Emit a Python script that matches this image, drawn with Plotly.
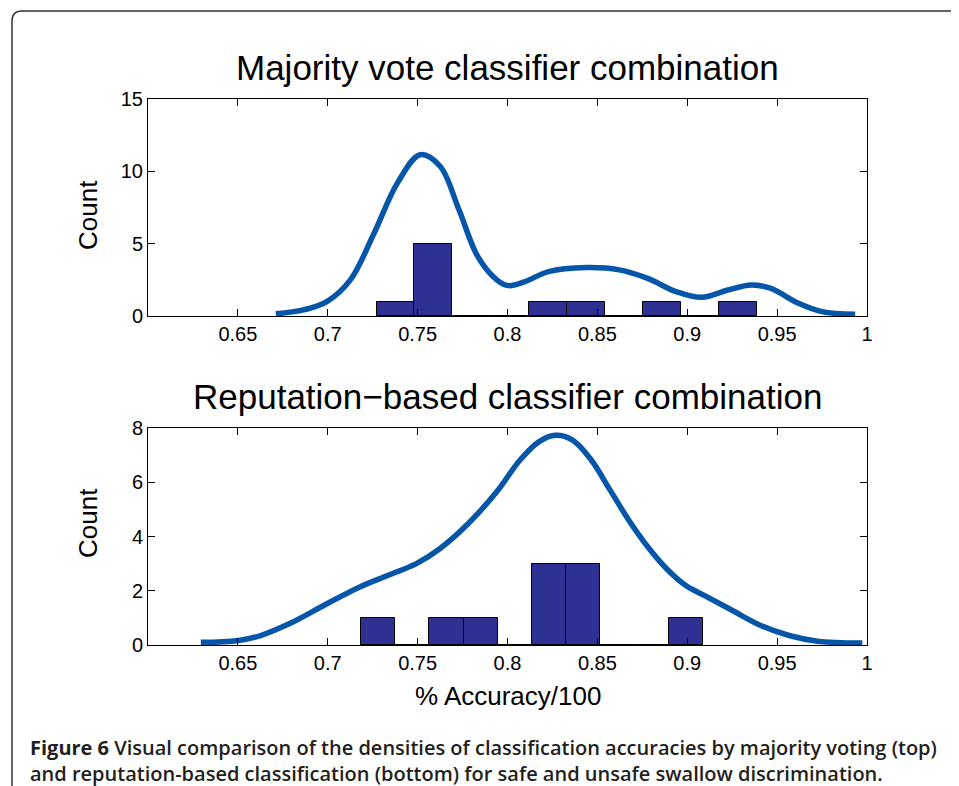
import plotly.graph_objects as go

# ---------------- data ----------------
top_bin_centers = [0.7377, 0.7588, 0.7800, 0.8011, 0.8223, 0.8435, 0.8646, 0.8858, 0.9070, 0.9281]
top_counts = [1, 5, 0, 0, 1, 1, 0, 1, 0, 1]
top_bin_width = 0.0211

bot_bin_centers = [0.7281, 0.7471, 0.7661, 0.7851, 0.8041, 0.8231, 0.8421, 0.8611, 0.8801, 0.8991]
bot_counts = [1, 0, 1, 1, 0, 3, 3, 0, 0, 1]
bot_bin_width = 0.0190

top_curve_x = [0.6711, 0.6864, 0.6995, 0.7126, 0.7257, 0.7388, 0.7514, 0.7625, 0.7730, 0.7835,
               0.7940, 0.8005, 0.8097, 0.8228, 0.8438, 0.8622, 0.8780, 0.8937, 0.9081, 0.9226,
               0.9357, 0.9462, 0.9619, 0.9750, 0.9934]
top_curve_y = [0.15, 0.42, 1.0, 2.5, 5.7, 9.2, 11.15, 10.35, 7.34, 4.1,
               2.5, 2.1, 2.38, 3.07, 3.35, 3.19, 2.6, 1.69, 1.29, 1.8,
               2.15, 1.92, 0.88, 0.3, 0.12]

bot_curve_x = [0.6294, 0.6496, 0.6627, 0.6785, 0.6995, 0.7178, 0.7336, 0.7493, 0.7625, 0.7782,
               0.7940, 0.8071, 0.8176, 0.8268, 0.8360, 0.8465, 0.8570, 0.8675, 0.8780, 0.8885,
               0.8990, 0.9094, 0.9252, 0.9409, 0.9567, 0.9724, 0.9974]
bot_curve_y = [0.1, 0.16, 0.35, 0.78, 1.52, 2.14, 2.57, 3.0, 3.56, 4.48,
               5.65, 6.83, 7.5, 7.73, 7.56, 6.83, 5.72, 4.6, 3.62, 2.81,
               2.2, 1.83, 1.27, 0.72, 0.35, 0.14, 0.07]

x_ticks = [0.65, 0.7, 0.75, 0.8, 0.85, 0.9, 0.95, 1.0]
x_tick_labels = ["0.65", "0.7", "0.75", "0.8", "0.85", "0.9", "0.95", "1"]
top_y_ticks = [0, 5, 10, 15]
bot_y_ticks = [0, 2, 4, 6, 8]

title_top = "Majority vote classifier combination"
title_bot = "Reputation\u2212based classifier combination"
y_label = "Count"
x_label = "% Accuracy/100"
caption_bold = "Figure 6"
caption_line1 = " Visual comparison of the densities of classification accuracies by majority voting (top)"
caption_line2 = "and reputation-based classification (bottom) for safe and unsafe swallow discrimination."

# ---------------- layout geometry (screen pixels; page body has an 8px offset) ----------------
OFF = 8
W, H = 959, 786
L, R, T, B = 148, 867, 99, 645          # plot area in screen pixels
PW, PH = R - L, B - T


def px(x):
    return (x - L) / PW


def py(y):
    return (B - y) / PH


top_dom = [py(316), 1.0]
bot_dom = [0.0, py(428)]

BAR_COLOR = "#2E3192"
LINE_COLOR = "#0556A8"
FONT = "Liberation Sans, Arial, Helvetica, sans-serif"

fig = go.Figure()

fig.add_trace(go.Bar(x=top_bin_centers, y=top_counts, width=top_bin_width,
                     marker=dict(color=BAR_COLOR, line=dict(color="black", width=1)),
                     xaxis="x", yaxis="y", showlegend=False))
fig.add_trace(go.Scatter(x=top_curve_x, y=top_curve_y, mode="lines",
                         line=dict(color=LINE_COLOR, width=5.5, shape="spline", smoothing=1.0),
                         xaxis="x", yaxis="y", showlegend=False))
fig.add_trace(go.Bar(x=bot_bin_centers, y=bot_counts, width=bot_bin_width,
                     marker=dict(color=BAR_COLOR, line=dict(color="black", width=1)),
                     xaxis="x2", yaxis="y2", showlegend=False))
fig.add_trace(go.Scatter(x=bot_curve_x, y=bot_curve_y, mode="lines",
                         line=dict(color=LINE_COLOR, width=5.5, shape="spline", smoothing=1.0),
                         xaxis="x2", yaxis="y2", showlegend=False))

axis_common = dict(showline=True, linecolor="black", linewidth=1, mirror="ticks",
                   ticks="inside", ticklen=7, tickcolor="black", showgrid=False,
                   zeroline=False, tickfont=dict(family=FONT, size=20, color="black"))

fig.update_layout(
    width=W, height=H,
    margin=dict(l=L - OFF, r=W - (R - OFF), t=T - OFF, b=H - (B - OFF)),
    paper_bgcolor="white", plot_bgcolor="white",
    bargap=0,
    xaxis=dict(domain=[0, 1], anchor="y", range=[0.6, 1.0], tickvals=x_ticks,
               ticktext=x_tick_labels, **axis_common),
    yaxis=dict(domain=top_dom, anchor="x", range=[0, 15], tickvals=top_y_ticks, **axis_common),
    xaxis2=dict(domain=[0, 1], anchor="y2", range=[0.6, 1.0], tickvals=x_ticks,
                ticktext=x_tick_labels, **axis_common),
    yaxis2=dict(domain=bot_dom, anchor="x2", range=[0, 8], tickvals=bot_y_ticks, **axis_common),
)

ann = []
ann.append(dict(text=title_top, x=0.5, y=py(68), xref="paper", yref="paper",
                showarrow=False, xanchor="center", yanchor="middle",
                font=dict(family=FONT, size=35, color="black")))
ann.append(dict(text=title_bot, x=0.5, y=py(396), xref="paper", yref="paper",
                showarrow=False, xanchor="center", yanchor="middle",
                font=dict(family=FONT, size=35, color="black")))
for yc in (215, 523):
    ann.append(dict(text=y_label, x=px(88), y=py(yc), xref="paper", yref="paper",
                    showarrow=False, xanchor="center", yanchor="middle", textangle=-90,
                    font=dict(family=FONT, size=26, color="black")))
ann.append(dict(text=x_label, x=0.5, y=py(696), xref="paper", yref="paper",
                showarrow=False, xanchor="center", yanchor="middle",
                font=dict(family=FONT, size=26, color="black")))
CAP_FONT = "Open Sans, Noto Sans, sans-serif"
ann.append(dict(text="<b>" + caption_bold + "</b>" + caption_line1 + "<br>" + caption_line2,
                x=px(28), y=py(760), align="left",
                xref="paper", yref="paper", showarrow=False, xanchor="left", yanchor="middle",
                font=dict(family=CAP_FONT, size=20, color="#231F20", weight=600)))
fig.update_layout(annotations=ann)

# rounded border frame (extends past the right and bottom edges)
r = 10
path = (f"M {px(12)} {py(820)} L {px(12)} {py(11 + r)} "
        f"Q {px(12)} {py(11)} {px(12 + r)} {py(11)} L {px(990)} {py(11)}")
fig.add_shape(type="path", path=path, xref="paper", yref="paper",
              line=dict(color="#333333", width=1.5), layer="above")

fig.write_html("out.html")
